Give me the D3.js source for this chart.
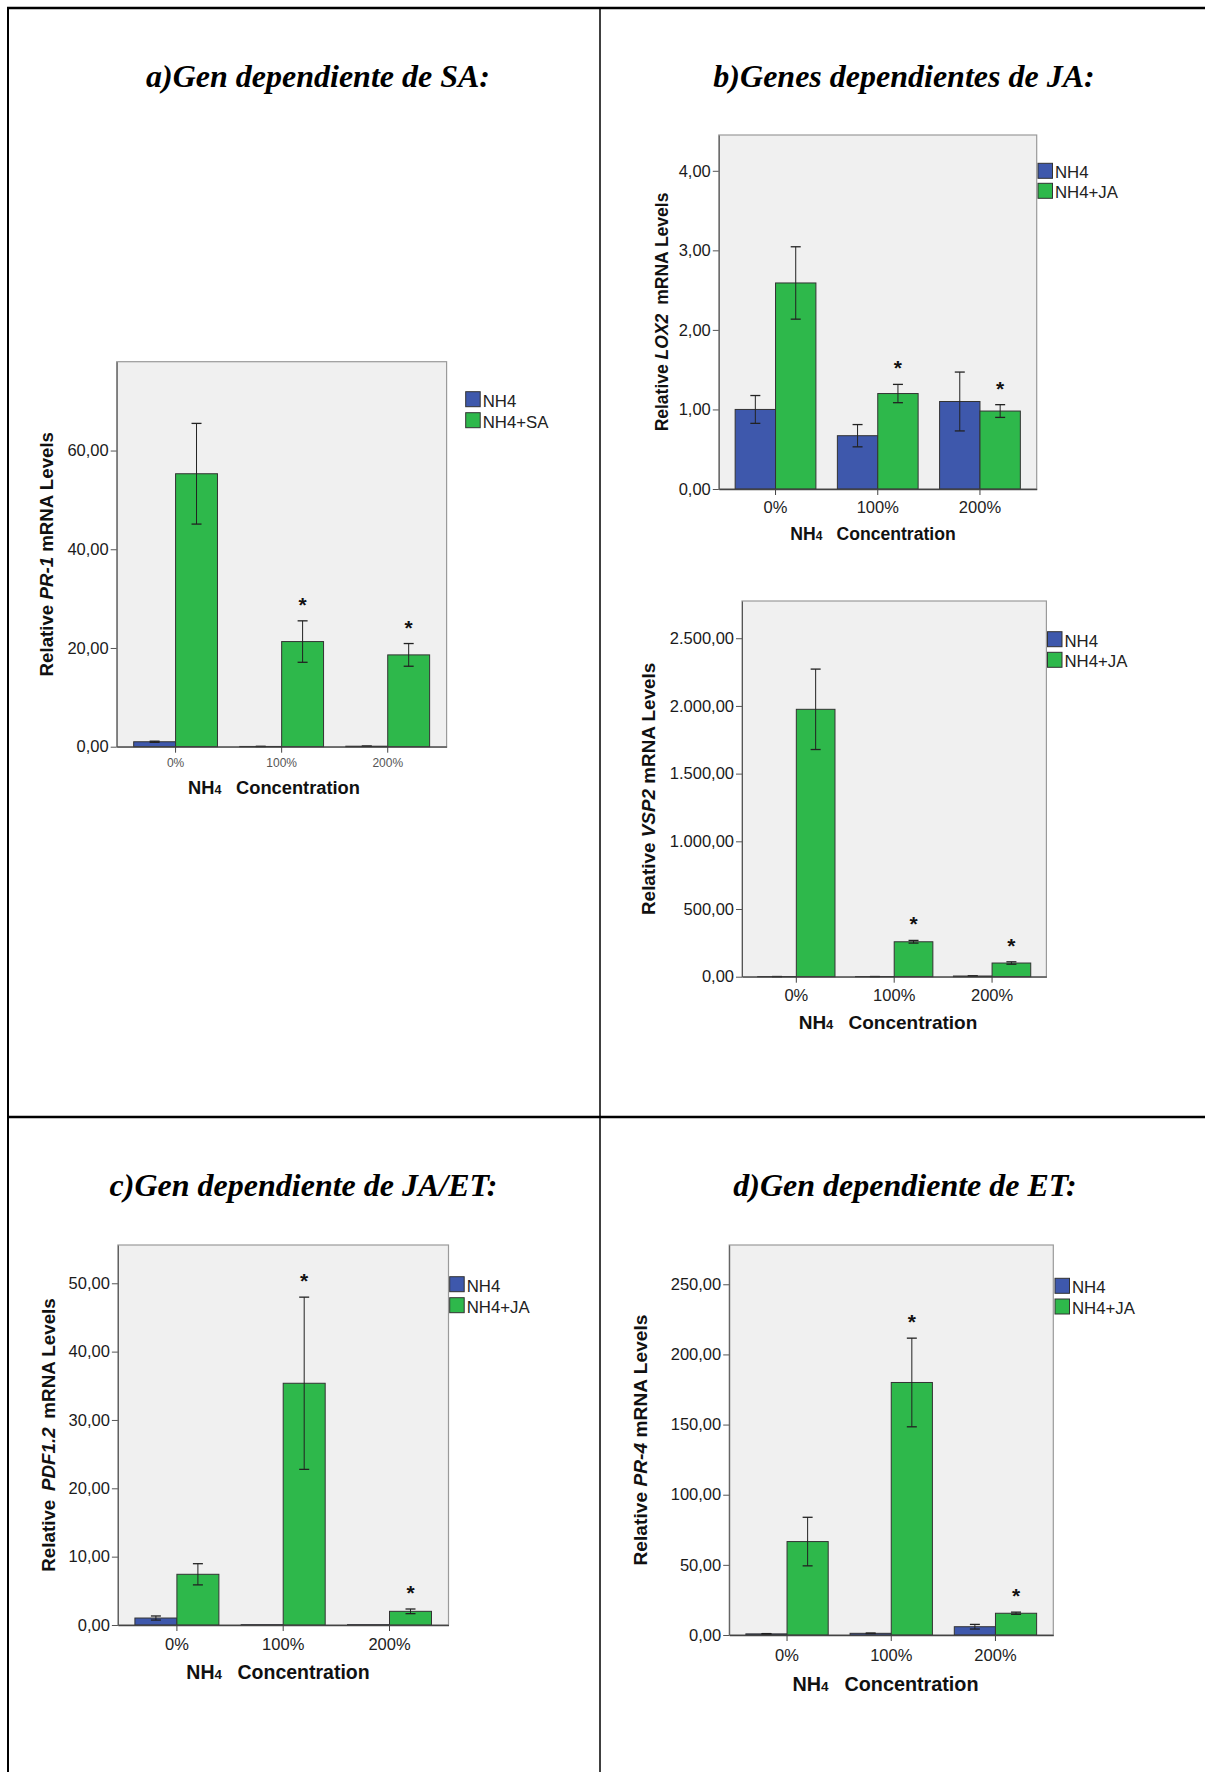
<!DOCTYPE html>
<html><head><meta charset="utf-8">
<script src="https://cdn.jsdelivr.net/npm/d3@7"></script>
<style>body{margin:0;background:#fff} svg{display:block}</style>
</head><body>
<svg id="chart" width="1205" height="1772"></svg>
<script>
// ---------- DATA ----------
const categories = ["0%", "100%", "200%"];

// a) PR-1
const pr1Series = ["NH4", "NH4+SA"];
const pr1NH4 = [1.0, 0.05, 0.1];
const pr1NH4Err = [0.12, 0.02, 0.02];
const pr1SA = [55.3, 21.3, 18.6];
const pr1SAErr = [10.2, 4.2, 2.3];
const pr1Sig = [false, true, true];
const pr1Ticks = [0, 20, 40, 60];

// b) LOX2
const lox2Series = ["NH4", "NH4+JA"];
const lox2NH4 = [1.00, 0.67, 1.10];
const lox2NH4Err = [0.175, 0.14, 0.37];
const lox2JA = [2.59, 1.20, 0.98];
const lox2JAErr = [0.455, 0.115, 0.08];
const lox2Sig = [false, true, true];
const lox2Ticks = [0, 1, 2, 3, 4];

// b) VSP2
const vsp2Series = ["NH4", "NH4+JA"];
const vsp2NH4 = [1, 1, 5];
const vsp2NH4Err = [0.5, 0.5, 1];
const vsp2JA = [1975, 258, 101];
const vsp2JAErr = [297, 10, 9];
const vsp2Sig = [false, true, true];
const vsp2Ticks = [0, 500, 1000, 1500, 2000, 2500];

// c) PDF1.2
const pdfSeries = ["NH4", "NH4+JA"];
const pdfNH4 = [1.02, 0.05, 0.05];
const pdfNH4Err = [0.3, 0, 0];
const pdfJA = [7.42, 35.37, 2.0];
const pdfJAErr = [1.55, 12.6, 0.34];
const pdfSig = [false, true, true];
const pdfTicks = [0, 10, 20, 30, 40, 50];

// d) PR-4
const pr4Series = ["NH4", "NH4+JA"];
const pr4NH4 = [0.8, 1.2, 5.9];
const pr4NH4Err = [0.2, 0.2, 1.65];
const pr4JA = [66.6, 180, 15.5];
const pr4JAErr = [17.3, 31.6, 0.8];
const pr4Sig = [false, true, true];
const pr4Ticks = [0, 50, 100, 150, 200, 250];

const titles = ["a)Gen dependiente de SA:", "b)Genes dependientes de JA:", "c)Gen dependiente de JA/ET:", "d)Gen dependiente de ET:"];

// ---------- STYLE / LAYOUT ----------
const colors = ["#3e58ac", "#2eb84b"];
const SANS = "'Liberation Sans', Arial, sans-serif";
const fmt = d3.formatLocale({decimal: ",", thousands: ".", grouping: [3], currency: ["", ""]}).format(",.2f");

const panels = [
  {series: pr1Series, vals: [pr1NH4, pr1SA], errs: [pr1NH4Err, pr1SAErr], sig: pr1Sig, ticks: pr1Ticks,
   gene: "PR-1", pre: "Relative ", post: " mRNA Levels", geneDx: 0, postDx: 0, ylabFs: 18.7,
   x0: 116.7, x1: 446.6, y0: 361.7, y1: 746.7, ymax: 78,
   legX: 465.7, legY: 391.7, legStep: 21, ylabX: 46, xTickPad: 6, xTickFs: 12, xTickFill: "#555",
   xTitleX: 274, xTitleY: 788, xTitleFs: 18.3},
  {series: lox2Series, vals: [lox2NH4, lox2JA], errs: [lox2NH4Err, lox2JAErr], sig: lox2Sig, ticks: lox2Ticks,
   gene: "LOX2", pre: "Relative ", post: " mRNA Levels", geneDx: 0, postDx: 4, ylabFs: 17.5,
   x0: 718.8, x1: 1036.7, y0: 135, y1: 489, ymax: 4.45,
   legX: 1038, legY: 163.3, legStep: 20, ylabX: 661.7, xTickPad: 6.2, xTickFs: 16.5, xTickFill: "#222",
   xTitleX: 873, xTitleY: 534, xTitleFs: 17.6},
  {series: vsp2Series, vals: [vsp2NH4, vsp2JA], errs: [vsp2NH4Err, vsp2JAErr], sig: vsp2Sig, ticks: vsp2Ticks,
   gene: "VSP2", pre: "Relative ", post: " mRNA Levels", geneDx: 0, postDx: 0, ylabFs: 18.9,
   x0: 742, x1: 1046.4, y0: 601, y1: 976.7, ymax: 2775,
   legX: 1047.5, legY: 631.7, legStep: 20.6, ylabX: 648, xTickPad: 6.5, xTickFs: 16.5, xTickFill: "#222",
   xTitleX: 888, xTitleY: 1023.3, xTitleFs: 19},
  {series: pdfSeries, vals: [pdfNH4, pdfJA], errs: [pdfNH4Err, pdfJAErr], sig: pdfSig, ticks: pdfTicks,
   gene: "PDF1.2", pre: "Relative ", post: " mRNA Levels", geneDx: 3.5, postDx: 3.5, ylabFs: 18.8,
   x0: 117.9, x1: 448.5, y0: 1245, y1: 1625, ymax: 55.6,
   legX: 449.7, legY: 1276.7, legStep: 21, ylabX: 47.8, xTickPad: 7.2, xTickFs: 16.5, xTickFill: "#222",
   xTitleX: 278, xTitleY: 1673.3, xTitleFs: 19.5},
  {series: pr4Series, vals: [pr4NH4, pr4JA], errs: [pr4NH4Err, pr4JAErr], sig: pr4Sig, ticks: pr4Ticks,
   gene: "PR-4", pre: "Relative ", post: " mRNA Levels", geneDx: 0, postDx: 0, ylabFs: 19.2,
   x0: 729.2, x1: 1053.3, y0: 1245, y1: 1635, ymax: 278,
   legX: 1055, legY: 1278.3, legStep: 20.7, ylabX: 640.5, xTickPad: 8.2, xTickFs: 16.5, xTickFill: "#222",
   xTitleX: 885.5, xTitleY: 1685, xTitleFs: 19.8}
];

const svg = d3.select("#chart");

// Table grid lines
svg.append("line").attr("x1", 7).attr("x2", 1205).attr("y1", 8).attr("y2", 8).attr("stroke", "#000").attr("stroke-width", 2.5);
svg.append("line").attr("x1", 8).attr("x2", 8).attr("y1", 7).attr("y2", 1772).attr("stroke", "#000").attr("stroke-width", 2);
svg.append("line").attr("x1", 600).attr("x2", 600).attr("y1", 8).attr("y2", 1772).attr("stroke", "#000").attr("stroke-width", 1.5);
svg.append("line").attr("x1", 8).attr("x2", 1205).attr("y1", 1117).attr("y2", 1117).attr("stroke", "#000").attr("stroke-width", 2.5);

// Titles
const titlePos = [[318, 87], [904, 87], [303.5, 1196], [905, 1196]];
titles.forEach((t, i) => {
  svg.append("text").attr("x", titlePos[i][0]).attr("y", titlePos[i][1])
    .attr("text-anchor", "middle")
    .style("font-family", "'Liberation Serif', 'Times New Roman', serif")
    .style("font-weight", "bold").style("font-style", "italic").style("font-size", "32px")
    .text(t);
});

function drawPanel(p) {
  const g = svg.append("g");
  const x = d3.scaleBand().domain(categories).range([p.x0, p.x1]).paddingInner(0).paddingOuter(0.055);
  const groupW = x.bandwidth() * 0.79;
  const xs = d3.scaleBand().domain(p.series).range([0, groupW]);
  const y = d3.scaleLinear().domain([0, p.ymax]).range([p.y1, p.y0]);

  g.append("rect").attr("x", p.x0).attr("y", p.y0).attr("width", p.x1 - p.x0).attr("height", p.y1 - p.y0)
    .attr("fill", "#f0f0f0").attr("stroke", "#9a9a9a").attr("stroke-width", 1.2);

  const barData = [];
  p.series.forEach((s, si) => categories.forEach((c, ci) => {
    barData.push({s, si, c, ci, v: p.vals[si][ci], e: p.errs[si][ci]});
  }));
  const bx = d => x(d.c) + (x.bandwidth() - groupW) / 2 + xs(d.s);

  g.selectAll("rect.bar").data(barData).join("rect").attr("class", "bar")
    .attr("x", bx).attr("width", xs.bandwidth())
    .attr("y", d => y(d.v)).attr("height", d => y(0) - y(d.v))
    .attr("fill", d => colors[d.si]).attr("stroke", "#333").attr("stroke-width", 1);

  // error bars
  const eb = g.selectAll("g.err").data(barData.filter(d => d.e > 0)).join("g").attr("class", "err");
  const cx = d => bx(d) + xs.bandwidth() / 2;
  eb.append("line").attr("x1", cx).attr("x2", cx).attr("y1", d => y(d.v + d.e)).attr("y2", d => y(Math.max(0, d.v - d.e)))
    .attr("stroke", "#222").attr("stroke-width", 1);
  eb.append("line").attr("x1", d => cx(d) - 5).attr("x2", d => cx(d) + 5).attr("y1", d => y(d.v + d.e)).attr("y2", d => y(d.v + d.e))
    .attr("stroke", "#222").attr("stroke-width", 1.3);
  eb.append("line").attr("x1", d => cx(d) - 5).attr("x2", d => cx(d) + 5).attr("y1", d => y(Math.max(0, d.v - d.e))).attr("y2", d => y(Math.max(0, d.v - d.e)))
    .attr("stroke", "#222").attr("stroke-width", 1.3);

  // significance asterisks (on second series)
  g.selectAll("text.sig").data(barData.filter(d => d.si === 1 && p.sig[d.ci])).join("text").attr("class", "sig")
    .attr("x", cx).attr("y", d => y(d.v + d.e) - 21 + 12)
    .attr("text-anchor", "middle")
    .style("font-family", SANS).style("font-weight", "bold").style("font-size", "21px").attr("fill", "#111")
    .text("*");

  // y axis
  const ya = g.append("g").attr("transform", `translate(${p.x0},0)`)
    .call(d3.axisLeft(y).tickValues(p.ticks).tickFormat(fmt).tickSize(6).tickPadding(2).tickSizeOuter(0));
  ya.select(".domain").attr("stroke", "#555");
  ya.selectAll(".tick line").attr("stroke", "#555");
  ya.selectAll("text").style("font-family", SANS).style("font-size", "16.5px").attr("fill", "#1a1a1a");

  // x axis
  const xa = g.append("g").attr("transform", `translate(0,${p.y1})`)
    .call(d3.axisBottom(x).tickSize(6).tickPadding(p.xTickPad).tickSizeOuter(0));
  xa.select(".domain").attr("stroke", "#444").attr("stroke-width", 1.3);
  xa.selectAll(".tick line").attr("stroke", "#444");
  xa.selectAll("text").style("font-family", SANS).style("font-size", p.xTickFs + "px").attr("fill", p.xTickFill);

  // y label
  const yl = g.append("text").attr("transform", `translate(${p.ylabX},${(p.y0 + p.y1) / 2}) rotate(-90)`)
    .attr("text-anchor", "middle").attr("dy", "0.36em")
    .style("font-family", SANS).style("font-weight", "bold").style("font-size", p.ylabFs + "px").attr("fill", "#111");
  yl.append("tspan").text(p.pre);
  yl.append("tspan").attr("dx", p.geneDx).style("font-style", "italic").text(p.gene);
  yl.append("tspan").attr("dx", p.postDx).text(p.post);

  // x title
  const k = p.xTitleFs / 17.5;
  const xt = g.append("text").attr("x", p.xTitleX).attr("y", p.xTitleY).attr("dy", "0.36em")
    .attr("text-anchor", "middle")
    .style("font-family", SANS).style("font-weight", "bold").attr("fill", "#111");
  xt.append("tspan").style("font-size", p.xTitleFs + "px").text("NH");
  xt.append("tspan").style("font-size", (12 * k) + "px").text("4");
  xt.append("tspan").attr("dx", 14 * k).style("font-size", p.xTitleFs + "px").text("Concentration");

  // legend
  const lg = g.selectAll("g.leg").data(p.series).join("g").attr("class", "leg")
    .attr("transform", (d, i) => `translate(${p.legX},${p.legY + i * p.legStep})`);
  lg.append("rect").attr("width", 14.5).attr("height", 15).attr("fill", (d, i) => colors[i]).attr("stroke", "#333").attr("stroke-width", 1);
  lg.append("text").attr("x", 17).attr("y", 15).style("font-family", SANS).style("font-size", "16.8px").attr("fill", "#222").text(d => d);
}

panels.forEach(drawPanel);
</script>
</body></html>
